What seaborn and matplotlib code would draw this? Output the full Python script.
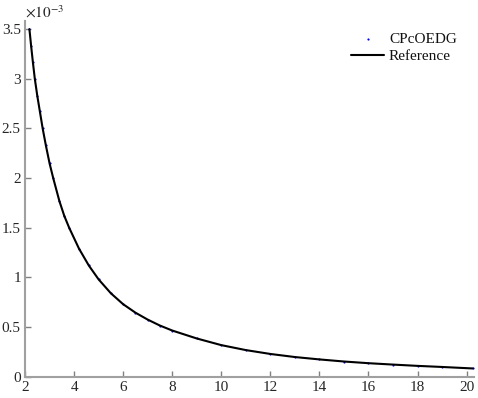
import matplotlib
matplotlib.use('Agg')
import matplotlib.pyplot as plt
import seaborn as sns
import pandas as pd

# values (y in units of 1e-3)
x_vals = [2.18, 2.25, 2.32, 2.40, 2.50, 2.60, 2.72, 2.85, 3.00, 3.15,
          3.40, 3.60, 3.80, 4.20, 4.60, 5.00, 5.50, 6.00, 6.50, 7.00,
          7.50, 8.00, 9.00, 10.0, 11.0, 12.0, 13.0, 14.0, 15.0, 16.0,
          17.0, 18.0, 19.0, 20.25]
y_vals = [3.50, 3.33, 3.17, 3.00, 2.83, 2.68, 2.50, 2.33, 2.15, 2.00,
          1.77, 1.62, 1.50, 1.29, 1.12, 0.98, 0.84, 0.73, 0.645, 0.575,
          0.515, 0.465, 0.385, 0.318, 0.268, 0.229, 0.198, 0.174, 0.153, 0.136,
          0.122, 0.109, 0.098, 0.083]
x_ticks = [2, 4, 6, 8, 10, 12, 14, 16, 18, 20]
y_ticks = [0, 0.5, 1, 1.5, 2, 2.5, 3, 3.5]
y_tick_labels = ['0', '0.5', '1', '1.5', '2', '2.5', '3', '3.5']

df = pd.DataFrame({'x': x_vals, 'y': y_vals})

sns.set_style('ticks')
plt.rcParams['font.family'] = ['Liberation Serif', 'DejaVu Serif']
plt.rcParams['mathtext.fontset'] = 'stix'

fig = plt.figure(figsize=(4.78, 3.98), dpi=100)
ax = fig.add_axes([25 / 478, 1 - 376.7 / 398, 449 / 478, (376.7 - 20.7) / 398])

sns.scatterplot(data=df, x='x', y='y', ax=ax, marker='o', s=2.5, color='blue',
                linewidth=0, label='CPcOEDG', zorder=2)
sns.lineplot(data=df, x='x', y='y', ax=ax, color='black', linewidth=1.5,
             label='Reference', zorder=3)

ax.set_xlim(2, 20.3)
ax.set_ylim(0, 3.585)
ax.set_xticks(x_ticks)
ax.set_yticks(y_ticks)
ax.set_yticklabels(y_tick_labels)
ax.set_xlabel('')
ax.set_ylabel('')

sns.despine(ax=ax)
for s in ['left', 'bottom']:
    ax.spines[s].set_color('#a0a0a0')
    ax.spines[s].set_linewidth(1.5)
ax.tick_params(direction='in', length=4, width=1, color='#808080',
               labelsize=11, labelcolor='#262626', pad=3)

ax.text(0.0, 1.0, r'$\times10^{-3}$', transform=ax.transAxes,
        fontsize=11, color='#262626', ha='left', va='bottom')

leg = ax.legend(loc='upper left', bbox_to_anchor=(337 / 478, 1 - 19 / 398),
                bbox_transform=fig.transFigure, frameon=False, fontsize=11,
                handlelength=2.2, handletextpad=0.3, labelspacing=0.2)
for t in leg.get_texts():
    t.set_color('#111111')

plt.savefig('out.png', dpi=100)
